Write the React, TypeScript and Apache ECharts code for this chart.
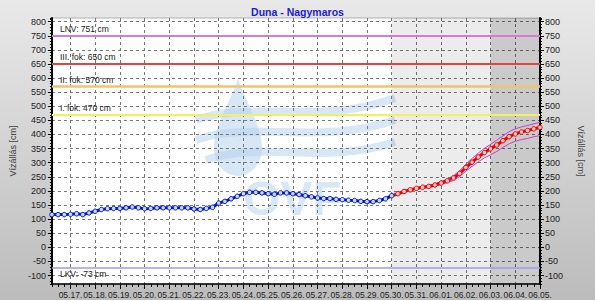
import React, { useEffect, useRef } from 'react';
import * as echarts from 'echarts';

// ---------- data ----------
const chartTitle = 'Duna - Nagymaros';
const axisName = 'Vízállás [cm]';
const baseDateUTC = Date.UTC(2024, 4, 17); // day 0 = 05.17.
const xMinDay = -0.75; // 05.16. 06:00
const xMaxDay = 19; // 06.05. 00:00
const dayTicks = [0, 1, 2, 3, 4, 5, 6, 7, 8, 9, 10, 11, 12, 13, 14, 15, 16, 17, 18, 19];
const yTicks = [-100, -50, 0, 50, 100, 150, 200, 250, 300, 350, 400, 450, 500, 550, 600, 650, 700, 750, 800];
const yMin = -130;
const yMax = 813;

// observed water level, every 6 hours from 05.16. 06:00 to 05.30. 00:00
const observedStartDay = -0.75;
const stepDay = 0.25;
const observed = [
  116, 116, 116,
  117, 119, 116, 122,
  128, 134, 137, 138,
  138, 140, 143, 140,
  137, 138, 140, 140,
  140, 140, 140, 140,
  136, 134, 138, 142,
  157, 163, 172, 181,
  190, 195, 195, 193,
  190, 188, 193, 193,
  190, 187, 183, 179,
  175, 173, 173, 170,
  169, 167, 166, 163,
  162, 162, 166, 172,
  183,
];

// forecast, every 6 hours from 05.30. 06:00 to 06.05. 00:00
const forecastStartDay = 13.25;
const forecast = [190, 198, 204, 209, 213, 216, 221, 228, 236, 246, 262, 283, 302, 320, 336, 349, 363, 378, 392, 402, 409, 414, 420, 425];
const forecastUpper = [192, 200, 207, 212, 216, 220, 225, 233, 242, 254, 272, 295, 315, 334, 351, 365, 380, 395, 410, 420, 427, 432, 438, 443];
const forecastLower = [188, 196, 201, 206, 210, 212, 217, 223, 229, 237, 251, 270, 287, 303, 317, 328, 340, 354, 367, 376, 382, 386, 392, 396];

const forecastZoneStart = 13; // 05.30.
const lateZoneStart = 17; // 06.03.

const thresholdNames = ['LNV', 'III. fok', 'II. fok', 'I. fok', 'LKV'];
const thresholdValues = [751, 650, 570, 470, -73];

// ---------- styles ----------
const thresholdColors = ['#d77ad7', '#e04545', '#f2c36e', '#f3ef5e', '#9c9cf0'];
const thresholdWidths = [2, 2, 2.5, 2, 1.5];
const FONT = '"Liberation Sans", Arial, sans-serif';

function dayLabel(d: number): string {
  const dt = new Date(baseDateUTC + Math.round(d) * 86400000);
  const m = String(dt.getUTCMonth() + 1).padStart(2, '0');
  const day = String(dt.getUTCDate()).padStart(2, '0');
  return `${m}.${day}.`;
}

const dropPath =
  'M 238 78 C 244 100 262 124 262 148 C 262 165 250 176 238 176 C 226 176 214 165 214 148 C 214 124 232 100 238 78 Z';

export default function App() {
  const ref = useRef<HTMLDivElement>(null);

  useEffect(() => {
    if (!ref.current) return;
    try {
      echarts.graphic.registerShape('ovfDrop', echarts.graphic.extendPath(dropPath, {}));
    } catch (e) {
      /* ignore */
    }
    const chart = echarts.init(ref.current, undefined, { renderer: 'svg' });

    const obsData = observed.map((v, i) => [observedStartDay + i * stepDay, v]);
    const fcData: any[] = [
      { value: [forecastZoneStart, observed[observed.length - 1]], symbol: 'none' },
      ...forecast.map((v, i) => [forecastStartDay + i * stepDay, v]),
    ];
    const upData = forecastUpper.map((v, i) => [forecastStartDay + i * stepDay, v]);
    const loData = forecastLower.map((v, i) => [forecastStartDay + i * stepDay, v]);

    const markLineData = thresholdNames.map((n, i) => ({
      yAxis: thresholdValues[i],
      lineStyle: { color: thresholdColors[i], width: thresholdWidths[i], type: 'solid' },
      label: {
        show: true,
        formatter: `${n}: ${thresholdValues[i]} cm`,
        position: thresholdValues[i] < 0 ? 'insideStartBottom' : 'insideStartTop',
        distance: [8, 2],
        color: '#1a1a1a',
        fontSize: 8.5,
        fontFamily: FONT,
      },
    }));

    const splitStyle = { color: '#777', type: [3, 3] as any, width: 1 };
    const wmColor = 'rgba(178,208,238,0.5)';

    const baseY = {
      type: 'value',
      min: yMin,
      max: yMax,
      interval: 10,
    };

    chart.setOption({
      animation: false,
      backgroundColor: 'transparent',
      textStyle: { fontFamily: FONT },
      title: {
        text: chartTitle,
        left: 'center',
        top: 1,
        textStyle: { fontSize: 10.5, fontWeight: 'bold', color: '#1c1cd0', fontFamily: FONT },
      },
      grid: {
        left: 51,
        right: 55,
        top: 18,
        bottom: 16,
        show: true,
        backgroundColor: '#ffffff',
        borderColor: '#b0b0b0',
        borderWidth: 1,
      },
      graphic: [
        {
          type: 'group',
          z: 1,
          silent: true,
          children: [
            { type: 'ovfDrop', x: 0, y: 0, style: { fill: wmColor, stroke: 'none' } },
            {
              type: 'bezierCurve',
              shape: { x1: 196, y1: 120, cpx1: 252, cpy1: 100, cpx2: 320, cpy2: 126, x2: 395, y2: 98 },
              style: { stroke: wmColor, lineWidth: 8, fill: 'none' },
            },
            {
              type: 'bezierCurve',
              shape: { x1: 196, y1: 140, cpx1: 252, cpy1: 120, cpx2: 320, cpy2: 146, x2: 395, y2: 120 },
              style: { stroke: wmColor, lineWidth: 8, fill: 'none' },
            },
            {
              type: 'bezierCurve',
              shape: { x1: 206, y1: 160, cpx1: 262, cpy1: 140, cpx2: 322, cpy2: 166, x2: 395, y2: 142 },
              style: { stroke: wmColor, lineWidth: 8, fill: 'none' },
            },
            {
              type: 'text',
              x: 243,
              y: 174,
              style: { text: 'OVF', font: `bold 48px ${FONT}`, fill: wmColor },
            },
          ],
        },
      ],
      xAxis: [
        {
          type: 'value',
          position: 'bottom',
          min: xMinDay,
          max: xMaxDay,
          interval: 0.25,
          axisLine: { show: true, onZero: false, lineStyle: { color: '#000', width: 1.5 } },
          axisTick: { show: true, customValues: dayTicks, length: 5, lineStyle: { color: '#000', width: 1 } },
          axisLabel: {
            show: true,
            customValues: dayTicks,
            formatter: (v: number) => dayLabel(v),
            fontSize: 8.5,
            color: '#222',
            margin: 6,
            hideOverlap: false,
          },
          splitLine: { show: true, lineStyle: splitStyle },
        },
        {
          type: 'value',
          position: 'bottom',
          min: xMinDay,
          max: xMaxDay,
          interval: 0.25,
          axisLine: { show: false, onZero: false },
          axisTick: { show: true, length: 3, lineStyle: { color: '#000', width: 1 } },
          axisLabel: { show: false },
          splitLine: { show: false },
        },
      ],
      yAxis: [
        {
          ...baseY,
          position: 'left',
          name: axisName,
          nameLocation: 'middle',
          nameRotate: 90,
          nameGap: 34,
          nameTextStyle: { fontSize: 9, color: '#444', fontFamily: FONT },
          axisLine: { show: true, onZero: false, lineStyle: { color: '#000', width: 2 } },
          axisTick: { show: true, customValues: yTicks, length: 4, lineStyle: { color: '#000' } },
          axisLabel: { show: true, customValues: yTicks, fontSize: 9, color: '#222', margin: 6 },
          splitLine: { show: true, lineStyle: splitStyle },
        },
        {
          ...baseY,
          position: 'left',
          axisLine: { show: false, onZero: false },
          axisTick: { show: true, length: 2, lineStyle: { color: '#000' } },
          axisLabel: { show: false },
          splitLine: { show: false },
        },
        {
          ...baseY,
          position: 'right',
          name: axisName,
          nameLocation: 'middle',
          nameRotate: -90,
          nameGap: 36,
          nameTextStyle: { fontSize: 9, color: '#444', fontFamily: FONT },
          axisLine: { show: true, onZero: false, lineStyle: { color: '#000', width: 2 } },
          axisTick: { show: true, customValues: yTicks, length: 4, lineStyle: { color: '#000' } },
          axisLabel: { show: true, customValues: yTicks, fontSize: 9, color: '#222', margin: 5 },
          splitLine: { show: false },
        },
        {
          ...baseY,
          position: 'right',
          axisLine: { show: false, onZero: false },
          axisTick: { show: true, length: 2, lineStyle: { color: '#000' } },
          axisLabel: { show: false },
          splitLine: { show: false },
        },
      ],
      series: [
        {
          name: 'zones',
          type: 'line',
          data: [],
          silent: true,
          markArea: {
            silent: true,
            data: [
              [{ xAxis: forecastZoneStart, itemStyle: { color: 'rgba(0,0,0,0.075)' } }, { xAxis: xMaxDay }],
              [{ xAxis: lateZoneStart, itemStyle: { color: 'rgba(0,0,0,0.14)' } }, { xAxis: xMaxDay }],
            ],
          },
          markLine: {
            silent: true,
            symbol: ['none', 'none'],
            data: markLineData,
          },
        },
        {
          name: 'felső',
          type: 'line',
          data: upData,
          showSymbol: false,
          lineStyle: { color: '#cc3fcc', width: 1 },
          z: 3,
        },
        {
          name: 'alsó',
          type: 'line',
          data: loData,
          showSymbol: false,
          lineStyle: { color: '#cc3fcc', width: 1 },
          z: 3,
        },
        {
          name: 'mért',
          type: 'line',
          data: obsData,
          symbol: 'circle',
          symbolSize: 4.5,
          showAllSymbol: true,
          lineStyle: { color: '#0412cf', width: 3 },
          itemStyle: { color: '#c4dcff', borderColor: '#0412cf', borderWidth: 1 },
          z: 4,
        },
        {
          name: 'előrejelzés',
          type: 'line',
          data: fcData,
          symbol: 'circle',
          symbolSize: 4.5,
          showAllSymbol: true,
          lineStyle: { color: '#e80000', width: 3 },
          itemStyle: { color: '#ffc4c4', borderColor: '#e80000', borderWidth: 1 },
          z: 4,
        },
      ],
    });

    return () => chart.dispose();
  }, []);

  return (
    <div
      style={{
        position: 'fixed',
        left: 0,
        top: 0,
        width: 595,
        height: 300,
        background: 'linear-gradient(to bottom, #e9e9e9, #bcbcbc)',
      }}
    >
      <div ref={ref} style={{ width: 595, height: 300 }} />
    </div>
  );
}
